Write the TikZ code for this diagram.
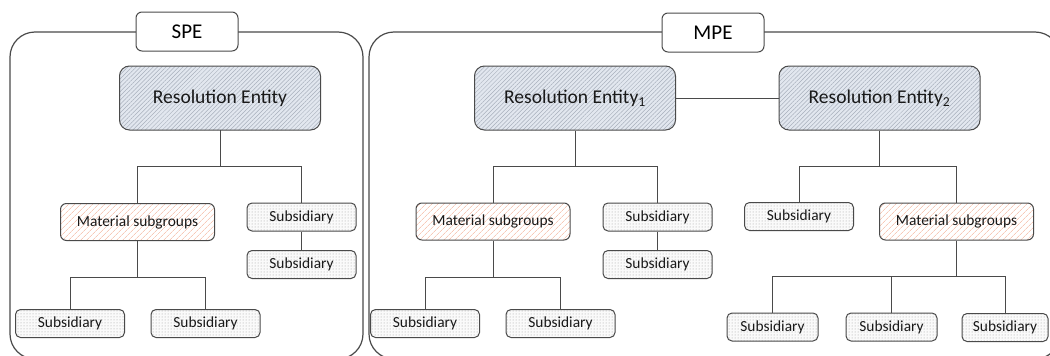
\documentclass[tikz,border=0pt]{standalone}
\usepackage{fontspec}
\setmainfont{Carlito}
\usetikzlibrary{patterns.meta}
\definecolor{entfill}{HTML}{E2E7EF}
\definecolor{enthatch}{HTML}{A8B0BC}
\definecolor{mathatch}{HTML}{F7C9B8}
\definecolor{subdots}{HTML}{9C9C9C}
\definecolor{edgegray}{HTML}{4A4A4A}

\begin{document}
\begin{tikzpicture}[x=1pt,y=-1pt,
    frame/.style={draw=edgegray,line width=1.2pt,rounded corners=25pt},
    tag/.style={draw=edgegray,line width=1pt,fill=white,rounded corners=6pt,
      minimum width=102pt,minimum height=39pt,font=\fontsize{21}{24}\selectfont},
    entity/.style={draw=edgegray,line width=1pt,rounded corners=10pt,preaction={fill=entfill},
      pattern={Lines[angle=45,distance=3pt,line width=0.5pt]},pattern color=enthatch,
      minimum width=201pt,minimum height=64pt,text=black!90,font=\fontsize{19.5}{22}\selectfont},
    matgroup/.style={draw=edgegray,line width=1pt,rounded corners=6pt,preaction={fill=white},
      pattern={Lines[angle=45,distance=4pt,line width=0.7pt]},pattern color=mathatch,
      minimum width=154pt,minimum height=37pt,text=black!90,font=\fontsize{15.4}{18}\selectfont},
    subsid/.style={draw=edgegray,line width=1pt,rounded corners=5pt,preaction={fill=gray!4},
      pattern={Dots[distance=3pt,radius=0.5pt]},pattern color=subdots,
      minimum width=109pt,minimum height=28pt,text=black!90,font=\fontsize{15.4}{18}\selectfont},
    link/.style={draw=edgegray,line width=1pt}]
    \clip (0,0) rectangle (1050,356);
    \draw[frame] (10,32) rectangle (363,359);
    \draw[frame] (369,32) rectangle (1060,359);
    \node[tag] (spe) at (187,31.5) {SPE};
    \node[tag] (mpe) at (713,32.5) {MPE};

    \coordinate (ja) at (220,166);
    \coordinate (jb) at (137.5,277);
    \coordinate (jc) at (575,166);
    \coordinate (jd) at (493,277);
    \coordinate (je) at (879.5,166);
    \coordinate (jf) at (956.5,276);

    \node[entity] (re) at (220,98) {Resolution Entity};
    \node[matgroup] (mat) at (137.5,222) {Material subgroups};
    \node[subsid] (sub1) at (301.5,217) {Subsidiary};
    \node[subsid] (sub2) at (301.5,264.5) {Subsidiary};
    \node[subsid] (sub3) at (70,323.5) {Subsidiary};
    \node[subsid] (sub4) at (205.5,323.5) {Subsidiary};

    \node[entity] (re1) at (575,98) {Resolution Entity\textsubscript{1}};
    \node[entity] (re2) at (879.5,98) {Resolution Entity\textsubscript{2}};
    \node[matgroup] (mat1) at (493,221.5) {Material subgroups};
    \node[subsid] (sub5) at (657.5,217) {Subsidiary};
    \node[subsid] (sub6) at (657.5,264.5) {Subsidiary};
    \node[subsid] (sub7) at (425,323.5) {Subsidiary};
    \node[subsid] (sub8) at (560.5,323.5) {Subsidiary};
    \node[subsid] (sub9) at (799,216.5) {Subsidiary};
    \node[matgroup] (mat2) at (956.5,221.5) {Material subgroups};
    \node[subsid,minimum width=91pt] (sub10) at (772.5,327) {Subsidiary};
    \node[subsid,minimum width=91pt] (sub11) at (891.5,327) {Subsidiary};
    \node[subsid,minimum width=86pt] (sub12) at (1005,327.5) {Subsidiary};

    \draw[link] (re.south) -- (ja) -| (mat.north);
    \draw[link] (ja) -| (sub1.north);
    \draw[link] (sub1) -- (sub2);
    \draw[link] (mat.south) -- (jb) -| (sub3.north);
    \draw[link] (jb) -| (sub4.north);

    \draw[link] (re1) -- (re2);
    \draw[link] (re1.south) -- (jc) -| (mat1.north);
    \draw[link] (jc) -| (sub5.north);
    \draw[link] (sub5) -- (sub6);
    \draw[link] (mat1.south) -- (jd) -| (sub7.north);
    \draw[link] (jd) -| (sub8.north);
    \draw[link] (re2.south) -- (je) -| (sub9.north);
    \draw[link] (je) -| (mat2.north);
    \draw[link] (mat2.south) -- (jf) -| (sub10.north);
    \draw[link] (jf) -| (sub11.north);
    \draw[link] (jf) -| (sub12.north);
\end{tikzpicture}
\end{document}
